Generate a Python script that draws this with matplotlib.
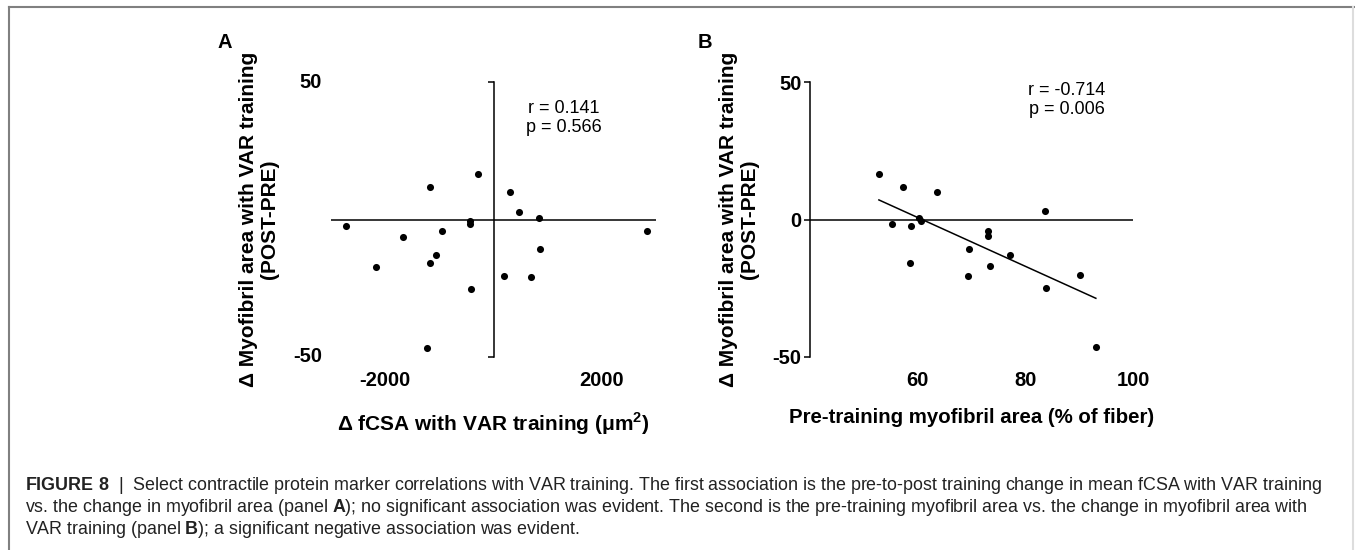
import numpy as np
import matplotlib
matplotlib.use("Agg")
import matplotlib.pyplot as plt
from matplotlib.lines import Line2D

plt.rcParams["font.family"] = ["Liberation Sans", "DejaVu Sans"]
plt.rcParams["mathtext.fontset"] = "custom"
plt.rcParams["mathtext.rm"] = "Liberation Sans"
plt.rcParams["mathtext.bf"] = "Liberation Sans:bold"

# panel A: change in fCSA vs change in myofibril area
fcsa_change = [-2731, -1671, -2173, -1176, -945, -1064, -1181, -294, -431, -437,
               -419, 313, 462, 834, 865, 195, 698, 2837, -1219]
myo_change_a = [-2.4, -6.2, -17.3, 11.8, -4.3, -13.0, -15.8, 16.7, -0.5, -1.8,
                -25.1, 9.9, 2.9, 0.6, -10.9, -20.7, -20.8, -4.0, -46.6]

# panel B: pre-training myofibril area vs change in myofibril area
pre_myo = [52.8, 57.2, 63.5, 55.3, 58.8, 60.2, 60.7, 58.5, 69.5, 69.4,
           73.1, 73.0, 73.5, 77.1, 83.7, 83.9, 90.1, 93.1]
myo_change_b = [16.7, 11.8, 9.9, -1.7, -2.4, 0.7, -0.5, -15.7, -10.8, -20.5,
                -4.1, -6.0, -17.0, -12.8, 3.0, -24.8, -20.3, -46.3]

stats_a = "r = 0.141\np = 0.566"
stats_b = "r = -0.714\np = 0.006"

ylabel = "\u0394 Myofibril area with VAR training\n(POST-PRE)"
xlabel_a = "\u0394 fCSA with VAR training (\u03bcm$^{\\mathbf{2}}$)"
xlabel_b = "Pre-training myofibril area (% of fiber)"

caption = [
    r"$\mathbf{FIGURE\ 8}$  |  Select contractile protein marker correlations with VAR training. "
    "The first association is the pre-to-post training change in mean fCSA with VAR training",
    r"vs. the change in myofibril area (panel $\mathbf{A}$); no significant association was evident. "
    "The second is the pre-training myofibril area vs. the change in myofibril area with",
    r"VAR training (panel $\mathbf{B}$); a significant negative association was evident.",
]

W, H = 1355, 550
fig = plt.figure(figsize=(W / 100, H / 100), dpi=100)

tick_fs = 14.5
stat_fs = 13
label_fs = 15
lw = 1.1

ax_a = fig.add_axes([331 / W, 1 - 357 / H, 325 / W, 275 / H])
ax_b = fig.add_axes([810 / W, 1 - 357 / H, 323 / W, 275 / H])

for ax in (ax_a, ax_b):
    ax.set_ylim(-50, 50)
    ax.spines["top"].set_visible(False)
    ax.spines["right"].set_visible(False)
    ax.spines["bottom"].set_visible(False)
    ax.spines["left"].set_linewidth(lw)
    ax.axhline(0, color="black", lw=lw, zorder=1)
    ax.tick_params(axis="x", length=0, pad=10, labelsize=tick_fs)
    ax.set_ylabel(ylabel, fontsize=label_fs, fontweight="bold", linespacing=1.1)

# panel A
ax_a.scatter(fcsa_change, myo_change_a, s=26, color="black", zorder=3, linewidths=0)
ax_a.set_xlim(-3000, 3000)
ax_a.spines["left"].set_position(("data", 0))
ax_a.set_yticks([-50, 50])
ax_a.tick_params(axis="y", length=4.5, width=lw, labelleft=False)
for v in [50, -50]:
    ax_a.annotate(str(v), xy=(0, v), xycoords=("axes fraction", "data"),
                  xytext=(-9, 0), textcoords="offset pixels", ha="right",
                  va="center", fontsize=tick_fs, fontweight="bold")
ax_a.set_xticks([-2000, 2000])
ax_a.set_xticklabels(["-2000", "2000"], fontweight="bold")
ax_a.set_xlabel(xlabel_a, fontsize=label_fs, fontweight="bold", labelpad=15)
ax_a.yaxis.set_label_coords(-0.16, 0.5)
ax_a.text(0.715, 0.87, stats_a, transform=ax_a.transAxes, ha="center", va="center",
          fontsize=stat_fs, linespacing=1.15)

# panel B
ax_b.scatter(pre_myo, myo_change_b, s=26, color="black", zorder=3, linewidths=0)
slope, intercept = np.polyfit(pre_myo, myo_change_b, 1)
xs = np.array([min(pre_myo), max(pre_myo)])
ax_b.plot(xs, slope * xs + intercept, color="black", lw=lw)
ax_b.set_xlim(40, 100)
ax_b.set_yticks([-50, 0, 50])
ax_b.set_yticklabels(["-50", "0", "50"], fontweight="bold")
ax_b.tick_params(axis="y", length=4.5, width=lw, pad=1.5, labelsize=tick_fs)
ax_b.set_xticks([60, 80, 100])
ax_b.set_xticklabels(["60", "80", "100"], fontweight="bold")
ax_b.set_xlabel(xlabel_b, fontsize=14.7, fontweight="bold", labelpad=13)
ax_b.yaxis.set_label_coords(-0.158, 0.5)
ax_b.text(0.795, 0.935, stats_b, transform=ax_b.transAxes, ha="center", va="center",
          fontsize=stat_fs, linespacing=1.15)

# panel letters
fig.text(225 / W, 1 - 42 / H, "A", fontsize=tick_fs, fontweight="bold", ha="center", va="center")
fig.text(705 / W, 1 - 42 / H, "B", fontsize=tick_fs, fontweight="bold", ha="center", va="center")

# caption
for i, line in enumerate(caption):
    fig.text(25 / W, 1 - (485 + 22.5 * i) / H, line, fontsize=12.9, color="#222222",
             ha="left", va="center")

# frame
fig.add_artist(Line2D([9 / W, 1], [1 - 7 / H, 1 - 7 / H], color="#808080", lw=1.5))
fig.add_artist(Line2D([9 / W, 9 / W], [0, 1 - 7 / H], color="#808080", lw=1.5))
fig.add_artist(Line2D([1353 / W, 1353 / W], [0, 1 - 7 / H], color="#dddddd", lw=1.5))

fig.savefig("out.png", dpi=100)
